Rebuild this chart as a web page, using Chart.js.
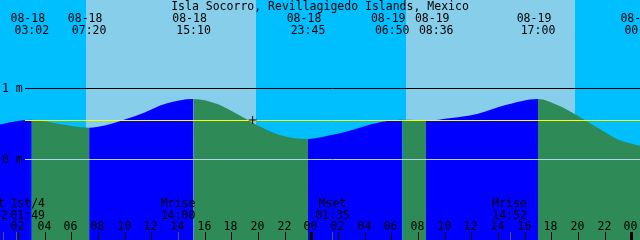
<!DOCTYPE html>
<html>
<head>
<meta charset="utf-8">
<title>Isla Socorro tides</title>
<script src="https://cdn.jsdelivr.net/npm/chart.js@4.4.1/dist/chart.umd.min.js"></script>
<style>
    html, body { margin: 0; padding: 0; background: #00bfff; }
    #tideChart { display: block; }
</style>
</head>
<body>
<canvas id="tideChart" width="640" height="240"></canvas>
<script>
// all times are hours counted from 08-18 00:00 local time
const startHour = 0.65;
const endHour = 48.65;

const tideHours   = [0.63, 2.0, 3.033, 5.0, 7.333, 8.5, 10.0, 11.5, 13.0, 15.167, 17.0, 18.5, 20.0, 21.5, 23.75,
                     25.5, 27.0, 29.0, 30.833, 32.6, 34.5, 36.5, 38.5, 41.0, 42.5, 44.0, 45.5, 47.0, 48.65];
const tideHeights = [0.49, 0.54, 0.555, 0.50, 0.445, 0.475, 0.56, 0.66, 0.78, 0.85, 0.775, 0.63, 0.475, 0.35, 0.285,
                     0.34, 0.41, 0.515, 0.555, 0.545, 0.58, 0.64, 0.76, 0.85, 0.76, 0.61, 0.44, 0.28, 0.19];

const hiloHours = [3.033, 7.333, 15.167, 23.75, 30.833, 32.6, 41.0, 48.78];
const hiloDates = ['08-18', '08-18', '08-18', '08-18', '08-19', '08-19', '08-19', '08-20'];
const hiloTimes = ['03:02', '07:20', '15:10', '23:45', '06:50', '08:36', '17:00', '00:47'];

const sunriseHours = [7.08, 31.08];
const sunsetHours = [19.83, 43.76];

const moonHours = [0.867, 1.817, 14.0, 25.583, 38.867];
const moonNames = ['Mset', '1st/4', 'Mrise', 'Mset', 'Mrise'];
const moonTimes = ['00:52', '01:49', '14:00', '01:35', '14:52'];

const tickHours = [2, 4, 6, 8, 10, 12, 14, 16, 18, 20, 22, 24, 26, 28, 30, 32, 34, 36, 38, 40, 42, 44, 46, 48];
const tickLabels = ['02', '04', '06', '08', '10', '12', '14', '16', '18', '20', '22', '00',
                    '02', '04', '06', '08', '10', '12', '14', '16', '18', '20', '22', '00'];

const levelValues = [1, 0];
const levelLabels = ['1 m', '0 m'];
const meanSeaLevel = 0.55;

const nowHour = 19.6;
const nowHeight = 0.553;

const title = 'Isla Socorro, Revillagigedo Islands, Mexico';

const dayColor = '#87ceeb';
const nightColor = '#00bfff';
const risingColor = '#0000ff';
const fallingColor = '#2e8b57';
const font = '11.5px "DejaVu Sans Mono", monospace';

var tideChart;

function init(){
    createTideChart();
}

function drawSky(chart){
    const ctx = chart.ctx;
    const x = chart.scales.x;
    ctx.save();
    ctx.fillStyle = nightColor;
    ctx.fillRect(0, 0, chart.width, chart.height);
    ctx.fillStyle = dayColor;
    for(let i = 0; i < sunriseHours.length; i++){
        let x0 = Math.round(x.getPixelForValue(sunriseHours[i]));
        let x1 = Math.round(x.getPixelForValue(sunsetHours[i]));
        ctx.fillRect(x0, 0, x1 - x0, chart.height);
    }
    ctx.restore();
}

function hLine(ctx, y, x0, x1, color){
    ctx.strokeStyle = color;
    ctx.lineWidth = 1;
    ctx.beginPath();
    ctx.moveTo(x0, Math.round(y) + 0.5);
    ctx.lineTo(x1, Math.round(y) + 0.5);
    ctx.stroke();
}

function drawLevels(chart){
    const ctx = chart.ctx;
    const y = chart.scales.y;
    const area = chart.chartArea;
    ctx.save();
    hLine(ctx, y.getPixelForValue(1), area.left + 25, area.right, '#000000');
    hLine(ctx, y.getPixelForValue(0), area.left + 25, area.right, '#add8e6');
    hLine(ctx, y.getPixelForValue(meanSeaLevel), area.left + 25, area.right, '#ffff00');
    ctx.font = font;
    ctx.fillStyle = '#000';
    ctx.textAlign = 'left';
    ctx.textBaseline = 'middle';
    levelValues.forEach(function(v, i){
        ctx.fillText(levelLabels[i], area.left + 2, Math.round(y.getPixelForValue(v)) + 1);
    });
    ctx.restore();
}

// push overlapping labels apart around their midpoint
function spreadLabels(xs, width){
    let out = xs.slice();
    for(let i = 1; i < out.length; i++){
        if(out[i] - out[i - 1] < width){
            let mid = (out[i] + out[i - 1]) / 2;
            out[i - 1] = mid - width / 2;
            out[i] = mid + width / 2;
        }
    }
    return out;
}

function drawLabels(chart){
    const ctx = chart.ctx;
    const x = chart.scales.x;
    const area = chart.chartArea;
    ctx.save();
    ctx.font = font;
    ctx.fillStyle = '#000';
    ctx.textBaseline = 'alphabetic';
    ctx.textAlign = 'center';

    ctx.fillText(title, chart.width / 2, 10);

    let hiloCenters = spreadLabels(hiloHours.map(h => x.getPixelForValue(h)), 44);
    hiloCenters.forEach(function(px, i){
        ctx.fillText(hiloDates[i], px - 4, 22);
        ctx.fillText(hiloTimes[i], px, 34);
    });

    // bottom ticks
    tickHours.forEach(function(h, i){
        let px = Math.round(x.getPixelForValue(h));
        let w = (h % 24 === 0) ? 3 : 1;
        ctx.fillRect(px - Math.floor(w / 2), area.bottom - 8, w, 8);
        ctx.fillText(tickLabels[i], px - 0.5, 229.5);
    });

    let moonPx = moonHours.map(h => x.getPixelForValue(h));
    ctx.fillStyle = '#555';
    moonPx.forEach(function(px){
        ctx.fillRect(Math.round(px), area.bottom - 8, 1, 8);
    });
    ctx.fillStyle = '#000';
    let centers = spreadLabels(moonPx, 37);
    centers.forEach(function(cx, i){
        ctx.fillText(moonNames[i], cx, 206.5);
        ctx.fillText(moonTimes[i], cx, 218.5);
    });
    ctx.restore();
}

const tidePlugin = {
    id: 'tidePlugin',
    beforeDraw(chart){
        drawSky(chart);
    },
    afterDatasetDraw(chart, args){
        if(args.index === 1){
            drawLevels(chart);
        }
    },
    afterDraw(chart){
        drawLabels(chart);
    }
};

function createTideChart(){
    let canvas = document.getElementById('tideChart');
    let tideData = [];
    for(let i = 0; i < tideHours.length; i++){
        tideData.push({x: tideHours[i], y: tideHeights[i]});
    }

    tideChart = new Chart(canvas, {
        type: 'line',
        data: {
            datasets: [{
                type: 'scatter',
                data: [{x: nowHour, y: nowHeight}],
                pointStyle: 'cross',
                pointRadius: 4,
                pointBorderColor: '#000',
                pointBorderWidth: 1,
                order: 1
            }, {
                data: tideData,
                borderWidth: 0,
                borderColor: 'rgba(0,0,0,0)',
                backgroundColor: risingColor,
                pointRadius: 0,
                fill: 'start',
                tension: 0.4,
                cubicInterpolationMode: 'monotone',
                segment: {
                    backgroundColor: ctx => ctx.p1.parsed.y >= ctx.p0.parsed.y ? risingColor : fallingColor
                },
                order: 2
            }]
        },
        options: {
            responsive: false,
            devicePixelRatio: 1,
            animation: false,
            events: [],
            layout: { padding: 0, autoPadding: false },
            plugins: {
                legend: { display: false },
                tooltip: { enabled: false }
            },
            scales: {
                x: { type: 'linear', min: startHour, max: endHour, display: false },
                y: { min: -1.137, max: 2.243, display: false }
            }
        },
        plugins: [tidePlugin]
    });
}

document.addEventListener("DOMContentLoaded", init);
</script>
</body>
</html>
